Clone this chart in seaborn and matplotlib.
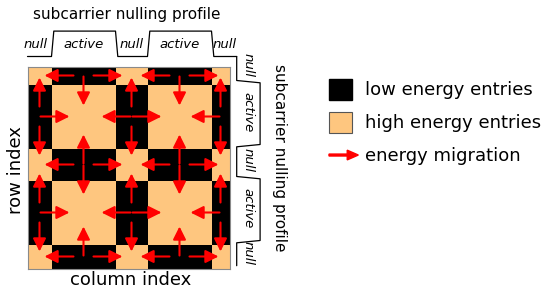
import numpy as np
import pandas as pd
import matplotlib
matplotlib.use('Agg')
import matplotlib.pyplot as plt
import seaborn as sns
from matplotlib.colors import ListedColormap
from matplotlib.patches import Patch, FancyArrow
from matplotlib.legend_handler import HandlerPatch

# subcarrier nulling profile (column order, left to right), widths in grid cells
col_states = ['null', 'active', 'null', 'active', 'null']
col_widths = [12, 32, 16, 32, 9]
# rows are drawn top to bottom, so the same profile is read backwards
row_states = col_states[::-1]
row_widths = col_widths[::-1]

legend_labels = ['low energy entries', 'high energy entries', 'energy migration']

LOW = 'black'
HIGH = '#fec67f'

sns.set_theme(style='white')
plt.rcParams['font.family'] = ['DejaVu Sans']
plt.rcParams['text.color'] = 'black'

# energy map: low energy where exactly one of row/column is nulled
rows = np.repeat(row_states, row_widths)
cols = np.repeat(col_states, col_widths)
energy = pd.DataFrame((rows[:, None] == cols[None, :]).astype(int))

fig = plt.figure(figsize=(5.45, 2.91), dpi=100)
ax = fig.add_axes([27.5 / 545, (291 - 268.5) / 291, 202 / 545, 202 / 291])
sns.heatmap(energy, cmap=ListedColormap([LOW, HIGH]), vmin=0, vmax=1, cbar=False,
            xticklabels=False, yticklabels=False, ax=ax)
for s in ax.spines.values():
    s.set_visible(True)
    s.set_color('#8a8a8a')
    s.set_linewidth(0.8)

edges_c = np.concatenate([[0], np.cumsum(col_widths)])
edges_r = np.concatenate([[0], np.cumsum(row_widths)])

# energy migration arrows: from every low energy block into its high energy neighbours
arrow_kw = dict(arrowstyle='-|>,head_length=0.6,head_width=0.3', color='red', lw=1.5,
                shrinkA=0, shrinkB=0, mutation_scale=13)
for i in range(len(row_states)):
    for j in range(len(col_states)):
        if row_states[i] == col_states[j]:
            continue
        cx = (edges_c[j] + edges_c[j + 1]) / 2
        cy = (edges_r[i] + edges_r[i + 1]) / 2
        for di, dj in [(-1, 0), (1, 0), (0, -1), (0, 1)]:
            ni, nj = i + di, j + dj
            if not (0 <= ni < len(row_states) and 0 <= nj < len(col_states)):
                continue
            half = col_widths[j] / 2 if dj else row_widths[i] / 2
            reach = max(half + 3.5, 15)
            tail = reach - 14.5
            ax.annotate('', xy=(cx + dj * reach, cy + di * reach),
                        xytext=(cx + dj * tail, cy + di * tail), arrowprops=arrow_kw)

# profile step lines above and to the right of the grid
slant = 1.15
end = 104.6
top_lvl = {'null': -5.0, 'active': -17.7}
right_lvl = {'null': 104.6, 'active': 116.3}

ts, ds = [0], [col_states[0]]
for k in range(1, len(col_states)):
    ts += [edges_c[k], edges_c[k] + slant]
    ds += [col_states[k - 1], col_states[k]]
ts.append(end)
ds.append(col_states[-1])

ax.plot(ts, [top_lvl[d] for d in ds], color='black', lw=0.9, clip_on=False)
ax.plot([right_lvl[d] for d in ds], [top_lvl['null'] + t for t in ts], color='black',
        lw=0.9, clip_on=False)

seg_lo = [-4] + list(edges_c[1:-1])
seg_hi = list(edges_c[1:-1]) + [end]
for lab, lo, hi in zip(col_states, seg_lo, seg_hi):
    mid = (lo + hi) / 2
    ax.text(mid, -11.2, lab, ha='center', va='center', fontsize=9.5, style='italic',
            clip_on=False)
    ax.text(110.4, top_lvl['null'] + mid, lab, ha='center', va='center', fontsize=9.5,
            style='italic', rotation=-90, clip_on=False)

fig.text(126.5 / 545, 1 - 14 / 291, 'subcarrier nulling profile', ha='center', va='center',
         fontsize=11)
fig.text(280 / 545, 1 - 158 / 291, 'subcarrier nulling profile', ha='center', va='center',
         fontsize=11, rotation=-90)
fig.text(16 / 545, 1 - 170 / 291, 'row index', ha='center', va='center', fontsize=13,
         rotation=90)
fig.text(130.8 / 545, 1 - 280 / 291, 'column index', ha='center', va='center', fontsize=13)


# legend
def make_arrow(legend, orig_handle, xdescent, ydescent, width, height, fontsize):
    return FancyArrow(-xdescent, height / 2 - ydescent, width * 1.25, 0, width=1.4,
                      head_width=7, head_length=8, length_includes_head=True)


handles = [Patch(facecolor=LOW, edgecolor=LOW),
           Patch(facecolor=HIGH, edgecolor='#555555', linewidth=0.8),
           Patch(facecolor='red', edgecolor='red')]
fig.legend(handles, legend_labels, loc='upper left', bbox_to_anchor=(329 / 545, 1 - 79 / 291),
           frameon=False, fontsize=13, handlelength=1.3, handleheight=1.39,
           handletextpad=0.7, labelspacing=0.67, borderpad=0, borderaxespad=0,
           handler_map={handles[2]: HandlerPatch(patch_func=make_arrow)})

fig.savefig('out.png', dpi=100)
